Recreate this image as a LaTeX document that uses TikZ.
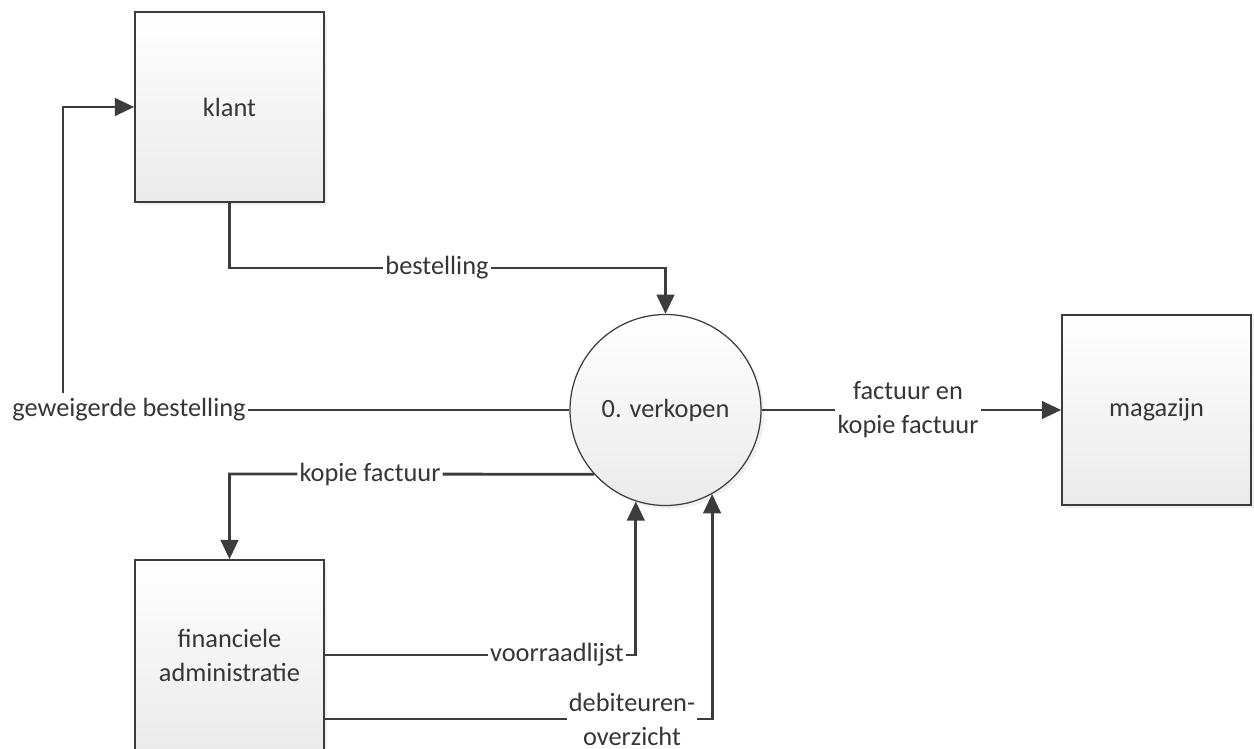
\documentclass[tikz,border=0pt]{standalone}
\usepackage{fontspec}
\setmainfont{Carlito}
\usetikzlibrary{arrows.meta,shadows}

\definecolor{lijnkleur}{HTML}{3C3C3C}
\definecolor{tekstkleur}{HTML}{363636}

\begin{document}
\begin{tikzpicture}[x=0.2mm,y=-0.2mm,
  font=\fontsize{15}{19.3}\selectfont,
  entiteit/.style={draw=lijnkleur, line width=0.9pt, minimum width=37.8mm, minimum height=38mm,
    top color=white, bottom color=gray!16, text=tekstkleur, align=center,
    drop shadow={opacity=0.12, shadow xshift=1.8pt, shadow yshift=-1.8pt}},
  proces/.style={draw=lijnkleur, line width=0.7pt, circle, minimum size=38.2mm, inner sep=0pt,
    top color=white, bottom color=gray!16, text=tekstkleur,
    drop shadow={opacity=0.12, shadow xshift=1.8pt, shadow yshift=-1.8pt}},
  stroom/.style={draw=lijnkleur, line width=1.6pt, -{Triangle[length=11pt,width=10pt]}},
  lbl/.style={fill=white, text=tekstkleur, inner sep=1pt, align=center}]
\useasboundingbox (0,0) rectangle (1254,749);

\node[entiteit] (klant) at (229.5,107) {klant};
\node[proces] (verkopen) at (665.5,410) {0. verkopen};
\node[entiteit] (magazijn) at (1156.5,410) {magazijn};
\node[entiteit] (finadm) at (229.5,655) {financiele\\administratie};

\node[lbl] (bestel) at (437,268) {bestelling};
\node[lbl] (geweigerd) at (129,410) {geweigerde bestelling};
\node[lbl] (kopie) at (370,474) {kopie factuur};
\node[lbl] (factuur) at (908,410) {factuur en\\kopie factuur};
\node[lbl] (voorraad) at (557,655) {voorraadlijst};
\node[lbl] (debiteur) at (632,719) {debiteuren-\\overzicht};
\coordinate (omhoog) at (63,393);

\path[stroom] (klant.south) |- (bestel) -| (verkopen.north);
\path[stroom,-] (verkopen.west) -- (geweigerd);
\path[stroom] (omhoog) |- (klant.west);
\path[stroom] (verkopen.222) -- (kopie) -| (finadm.north);
\path[stroom] (verkopen.east) -- (factuur) -- (magazijn.west);
\path[stroom] (finadm.east) -- (voorraad) -| (verkopen.252);
\path[stroom] (finadm.east |- debiteur) -- (debiteur) -| (verkopen.299);
\end{tikzpicture}
\end{document}
